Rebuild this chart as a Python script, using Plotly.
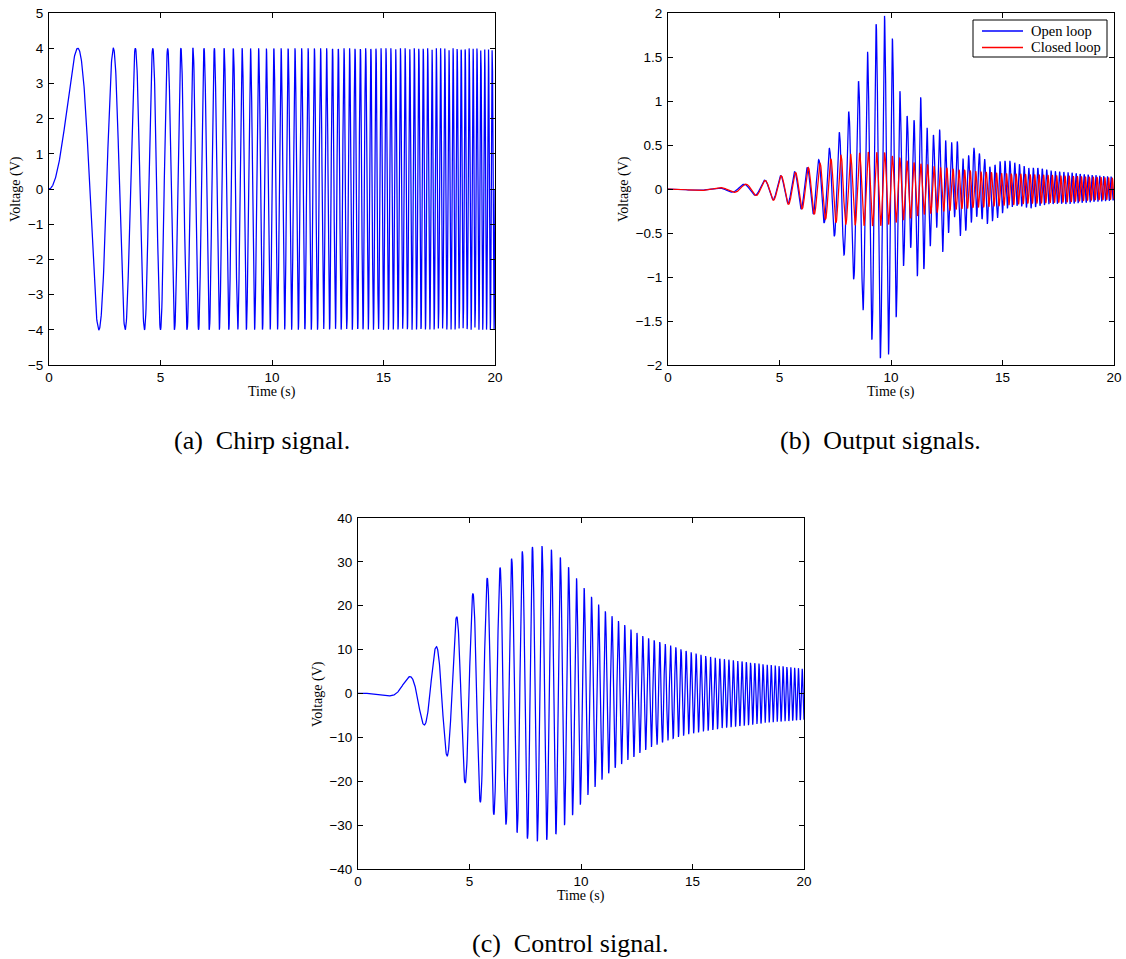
import numpy as np
import plotly.graph_objects as go

# ---------------- data ----------------
T_END = 20.0
DT = 0.01  # sample step of the recordings (s)

# chirp sweep (instantaneous frequency, Hz) read from cycle spacing in (a)
chirp_freq_t = [0.0, 20.0]
chirp_freq_hz = [0.0, 6.0]

# (a) chirp signal: upper / lower envelope (V) and phase lag (cycles)
chirp_hi_t = [0.0, 20.0]
chirp_hi = [4.0, 4.0]
chirp_lo_t = [0.0, 20.0]
chirp_lo = [-4.0, -4.0]
chirp_lag_t = [0.0, 20.0]
chirp_lag = [0.0, 0.0]

# (b) open loop output
open_hi_t = [0.0, 2.2, 3.39, 4.33, 5.03, 5.66, 6.23, 6.75, 7.23, 7.67, 8.12, 8.54, 8.94,
             9.33, 9.75, 10.12, 10.5, 10.97, 11.35, 11.72, 12.15, 12.52, 12.96, 13.28,
             13.72, 14.2, 14.47, 14.92, 15.34, 15.78, 16.19, 16.6, 17.0, 17.43, 18.0,
             18.5, 19.0, 19.5, 20.0]
open_hi = [0.0, 0.012, 0.053, 0.10, 0.148, 0.195, 0.24, 0.33, 0.46, 0.64, 0.89, 1.22, 1.56,
           1.875, 1.98, 1.66, 0.92, 0.73, 1.06, 0.56, 0.69, 0.52, 0.55, 0.31,
           0.47, 0.34, 0.24, 0.32, 0.32, 0.28, 0.24, 0.24, 0.22, 0.20, 0.19,
           0.17, 0.16, 0.15, 0.14]
open_lo_t = [0.0, 2.84, 3.88, 4.68, 5.36, 5.97, 6.5, 7.0, 7.47, 7.91, 8.35, 8.76, 9.16,
             9.57, 9.95, 10.32, 10.75, 11.18, 11.52, 12.0, 12.34, 12.8, 13.13, 13.57,
             13.9, 14.33, 14.78, 15.22, 15.64, 16.3, 16.68, 17.13, 18.0, 19.0, 20.0]
open_lo = [0.0, -0.035, -0.07, -0.118, -0.16, -0.225, -0.283, -0.385, -0.54, -0.76, -1.04,
           -1.39, -1.73, -1.95, -1.87, -1.33, -0.53, -0.99, -0.90, -0.40, -0.74, -0.28,
           -0.56, -0.39, -0.30, -0.40, -0.33, -0.22, -0.19, -0.22, -0.19, -0.17, -0.17,
           -0.15, -0.13]
open_lag_t = [0.0, 3.4, 4.3, 6.3, 8.1, 8.5, 8.9, 9.3, 9.8, 10.5, 20.0]
open_lag = [0.46, 0.47, 0.56, 0.60, 0.59, 0.69, 0.74, 0.81, 0.90, 1.0, 1.0]

# (b) closed loop output
closed_hi_t = [0.0, 2.2, 3.39, 4.33, 5.03, 5.68, 6.25, 6.78, 7.27, 7.7, 8.15, 8.57, 9.0,
               9.4, 9.75, 10.1, 10.45, 10.85, 11.25, 11.65, 12.05, 12.5, 13.0, 13.5,
               14.0, 15.0, 16.0, 17.0, 18.0, 19.0, 20.0]
closed_hi = [0.0, 0.012, 0.05, 0.095, 0.148, 0.185, 0.24, 0.29, 0.34, 0.38, 0.40, 0.41, 0.42,
             0.42, 0.41, 0.37, 0.35, 0.31, 0.29, 0.28, 0.25, 0.24, 0.22, 0.21,
             0.20, 0.18, 0.17, 0.16, 0.15, 0.14, 0.13]
closed_lo_t = [0.0, 2.84, 3.88, 4.68, 5.35, 5.95, 6.5, 7.0, 7.47, 7.9, 8.35, 9.0, 9.5,
               10.0, 10.5, 11.0, 11.5, 12.0, 12.5, 13.0, 14.0, 15.0, 16.0, 17.0, 18.0,
               19.0, 20.0]
closed_lo = [0.0, -0.035, -0.07, -0.125, -0.17, -0.22, -0.28, -0.34, -0.38, -0.40, -0.41,
             -0.42, -0.42, -0.40, -0.36, -0.32, -0.29, -0.27, -0.25, -0.23, -0.21, -0.19,
             -0.17, -0.16, -0.15, -0.13, -0.12]
closed_lag_t = [0.0, 5.0, 8.2, 9.0, 10.0, 11.0, 12.0, 13.0, 20.0]
closed_lag = [0.47, 0.60, 0.80, 0.85, 0.93, 1.0, 1.1, 1.3, 1.3]

# (c) control signal
ctrl_hi_t = [0.0, 0.25, 0.8, 1.5, 2.24, 3.49, 4.42, 5.15, 5.79, 6.37, 6.9, 7.37, 7.82, 8.25,
             8.67, 9.08, 9.43, 9.78, 10.13, 10.48, 10.8, 11.1, 11.4, 11.69, 11.96, 12.22,
             12.5, 12.76, 13.3, 14.0, 14.73, 15.48, 16.2, 17.1, 18.0, 18.9, 19.9, 20.0]
ctrl_hi = [0.0, 0.3, 0.1, 0.4, 3.6, 10.6, 17.5, 22.8, 26.3, 28.7, 30.8, 32.4, 33.4, 33.6,
           32.8, 31.0, 28.9, 26.4, 24.1, 22.0, 20.3, 18.7, 17.6, 16.5, 15.6, 14.7,
           13.9, 13.1, 12.1, 11.0, 9.7, 8.7, 8.0, 7.4, 6.8, 6.3, 5.7, 5.7]
ctrl_lo_t = [0.0, 1.2, 2.0, 2.94, 3.99, 4.81, 5.48, 6.09, 6.64, 7.15, 7.61, 8.04, 8.46, 8.88,
             9.25, 9.63, 9.96, 10.3, 10.63, 10.93, 11.24, 11.55, 11.85, 12.09, 12.4,
             12.65, 13.0, 13.54, 14.3, 15.03, 15.8, 16.5, 17.4, 18.3, 19.8, 20.0]
ctrl_lo = [0.0, -0.5, -0.7, -7.1, -14.2, -20.5, -24.8, -27.6, -29.9, -31.7, -33.1, -33.7,
           -33.4, -32.1, -30.1, -27.7, -25.4, -23.2, -21.3, -19.7, -18.2, -16.9, -16.0,
           -15.2, -14.4, -13.5, -12.6, -11.4, -10.0, -9.1, -8.4, -7.8, -7.3, -6.7, -6.1,
           -6.0]
ctrl_lag_t = [0.0, 2.24, 3.49, 4.42, 5.15, 6.37, 7.37, 8.25, 9.09, 10.5, 20.0]
ctrl_lag = [0.5, 0.5, 0.58, 0.68, 0.73, 0.84, 0.90, 0.96, 1.1, 1.2, 1.25]

x_ticks = [0, 5, 10, 15, 20]
ya_ticks = [-5, -4, -3, -2, -1, 0, 1, 2, 3, 4, 5]
yb_ticks = [-2, -1.5, -1, -0.5, 0, 0.5, 1, 1.5, 2]
yc_ticks = [-40, -30, -20, -10, 0, 10, 20, 30, 40]

legend_names = ["Open loop", "Closed loop"]

# ---------------- build the sampled signals ----------------
t = np.arange(0.0, T_END + DT / 2, DT)
freq = np.interp(t, chirp_freq_t, chirp_freq_hz)
cycles = np.concatenate([[0.0], np.cumsum((freq[1:] + freq[:-1]) / 2 * DT)])


def signal(hi_t, hi, lo_t, lo, lag_t, lag):
    u = np.interp(t, hi_t, hi)
    l = np.interp(t, lo_t, lo)
    ph = 2 * np.pi * (cycles - np.interp(t, lag_t, lag))
    return (u + l) / 2 + (u - l) / 2 * np.sin(ph)


y_chirp = signal(chirp_hi_t, chirp_hi, chirp_lo_t, chirp_lo, chirp_lag_t, chirp_lag)
y_open = signal(open_hi_t, open_hi, open_lo_t, open_lo, open_lag_t, open_lag)
y_closed = signal(closed_hi_t, closed_hi, closed_lo_t, closed_lo, closed_lag_t, closed_lag)
y_ctrl = signal(ctrl_hi_t, ctrl_hi, ctrl_lo_t, ctrl_lo, ctrl_lag_t, ctrl_lag)

# ---------------- figure ----------------
W, H = 1126, 959


def px(x):
    return x / W


def py(y):
    return 1 - y / H


BLUE = "#0000ff"
RED = "#ff0000"
LW = 1.25

fig = go.Figure()
fig.add_trace(go.Scatter(x=t, y=y_chirp, mode="lines", line=dict(color=BLUE, width=LW),
                         name="Chirp", showlegend=False, xaxis="x", yaxis="y"))
fig.add_trace(go.Scatter(x=t, y=y_open, mode="lines", line=dict(color=BLUE, width=LW),
                         name=legend_names[0], showlegend=False, xaxis="x2", yaxis="y2"))
fig.add_trace(go.Scatter(x=t, y=y_closed, mode="lines", line=dict(color=RED, width=LW),
                         name=legend_names[1], showlegend=False, xaxis="x2", yaxis="y2"))
fig.add_trace(go.Scatter(x=t, y=y_ctrl, mode="lines", line=dict(color=BLUE, width=LW),
                         name="Control", showlegend=False, xaxis="x3", yaxis="y3"))

tick_font = dict(family="Liberation Sans", size=13.5, color="black")
common = dict(showline=True, linecolor="black", linewidth=1, mirror="ticks",
              ticks="inside", ticklen=5, tickcolor="black", tickwidth=1,
              showgrid=False, zeroline=False, tickfont=tick_font, fixedrange=True,
              automargin=False, ticklabeloverflow="allow")
ycommon = dict(common, ticklabelstandoff=2)

fig.update_layout(
    width=W, height=H,
    margin=dict(l=0, r=0, t=0, b=0, autoexpand=False),
    paper_bgcolor="white", plot_bgcolor="white",
    showlegend=False,
    hovermode=False,
    xaxis=dict(domain=[px(49), px(495)], range=[0, 20], tickvals=x_ticks, anchor="y", **common),
    yaxis=dict(domain=[py(365), py(13)], range=[-5, 5], tickvals=ya_ticks, anchor="x", **ycommon),
    xaxis2=dict(domain=[px(668), px(1114)], range=[0, 20], tickvals=x_ticks, anchor="y2", **common),
    yaxis2=dict(domain=[py(365), py(13)], range=[-2, 2], tickvals=yb_ticks, anchor="x2", **ycommon),
    xaxis3=dict(domain=[px(358), px(804)], range=[0, 20], tickvals=x_ticks, anchor="y3", **common),
    yaxis3=dict(domain=[py(869), py(518)], range=[-40, 40], tickvals=yc_ticks, anchor="x3", **ycommon),
)

serif = "Liberation Serif"
label_font = dict(family=serif, size=14, color="black")
cap_font = dict(family=serif, size=26, color="black")
leg_font = dict(family=serif, size=14.5, color="black")


def ann(text, x, y, font, angle=0, xanchor="center"):
    fig.add_annotation(text=text, x=px(x), y=py(y), xref="paper", yref="paper",
                       showarrow=False, xanchor=xanchor, yanchor="middle",
                       textangle=angle, font=font)


ann("Voltage (V)", 16, 189, label_font, -90)
ann("Time (s)", 272, 392, label_font)
ann("Voltage (V)", 624, 189, label_font, -90)
ann("Time (s)", 891, 392, label_font)
ann("Voltage (V)", 318, 694, label_font, -90)
ann("Time (s)", 581, 896, label_font)
ann("(a)\u00a0\u00a0Chirp signal.", 262, 440, cap_font)
ann("(b)\u00a0\u00a0Output signals.", 880, 440, cap_font)
ann("(c)\u00a0\u00a0Control signal.", 570, 943, cap_font)

# legend box of panel (b)
fig.add_shape(type="rect", xref="paper", yref="paper",
              x0=px(973), x1=px(1107), y0=py(57), y1=py(20),
              line=dict(color="black", width=1), fillcolor="white", layer="above")
for name, col, yy in [(legend_names[0], BLUE, 31), (legend_names[1], RED, 47.5)]:
    fig.add_shape(type="line", xref="paper", yref="paper",
                  x0=px(982), x1=px(1023), y0=py(yy), y1=py(yy),
                  line=dict(color=col, width=1.3), layer="above")
    fig.add_annotation(text=name, x=px(1030), y=py(yy), xref="paper", yref="paper",
                       showarrow=False, xanchor="left", yanchor="middle", font=leg_font,
                       borderpad=0)

fig.write_html("out.html",
               config={"displayModeBar": False, "staticPlot": True},
               post_script="document.body.style.margin='0';"
                           "document.body.style.overflow='hidden';")
